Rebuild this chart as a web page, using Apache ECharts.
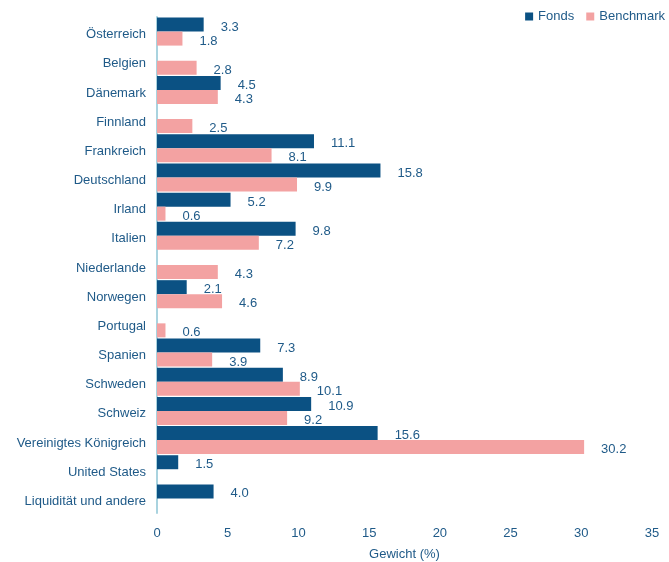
<!DOCTYPE html>
<html>
<head>
<meta charset="utf-8">
<script src="https://cdn.jsdelivr.net/npm/echarts@6/dist/echarts.min.js"></script>
<style>
  html, body { margin: 0; padding: 0; background: #fff; }
  #chart { width: 669px; height: 562px; }
</style>
</head>
<body>
<div id="chart"></div>
<script>
var categories = ['Österreich', 'Belgien', 'Dänemark', 'Finnland', 'Frankreich', 'Deutschland', 'Irland', 'Italien',
    'Niederlande', 'Norwegen', 'Portugal', 'Spanien', 'Schweden', 'Schweiz', 'Vereinigtes Königreich',
    'United States', 'Liquidität und andere'];
var fonds = [3.3, null, 4.5, null, 11.1, 15.8, 5.2, 9.8, null, 2.1, null, 7.3, 8.9, 10.9, 15.6, 1.5, 4.0];
var benchmark = [1.8, 2.8, 4.3, 2.5, 8.1, 9.9, 0.6, 7.2, 4.3, 4.6, 0.6, 3.9, 10.1, 9.2, 30.2, null, null];
var xTicks = [0, 5, 10, 15, 20, 25, 30, 35];

var textColor = '#1f5a88';
var fontSize = 13;
var myChart = echarts.init(document.getElementById('chart'));

function barLabel() {
    return {
        show: true,
        position: 'right',
        distance: 17,
        offset: [0, 2.5],
        color: textColor,
        fontSize: fontSize,
        formatter: function (p) {
            return p.value == null ? '' : p.value.toFixed(1);
        }
    };
}

var option = {
    animation: false,
    textStyle: { fontFamily: 'Liberation Sans, Arial, sans-serif' },
    legend: {
        right: 4,
        top: 10,
        padding: 0,
        itemWidth: 8,
        itemHeight: 8,
        itemGap: 12,
        icon: 'rect',
        textStyle: { color: textColor, fontSize: fontSize },
        data: ['Fonds', 'Benchmark']
    },
    grid: { left: 157, right: 17, top: 17, bottom: 49, containLabel: false, outerBoundsMode: 'none' },
    xAxis: {
        type: 'value',
        min: xTicks[0],
        max: xTicks[xTicks.length - 1],
        interval: 5,
        name: 'Gewicht (%)',
        nameLocation: 'middle',
        nameGap: 35,
        nameTextStyle: { color: textColor, fontSize: fontSize },
        axisLine: { show: false },
        axisTick: { show: false },
        splitLine: { show: false },
        axisLabel: { color: textColor, fontSize: fontSize, margin: 14 }
    },
    yAxis: {
        type: 'category',
        inverse: true,
        data: categories,
        axisLine: { show: true, lineStyle: { color: '#a9d3df', width: 2 } },
        axisTick: { show: false },
        axisLabel: {
            color: textColor,
            fontSize: fontSize,
            margin: 11,
            formatter: '{c|{value}}',
            rich: { c: { color: textColor, fontSize: fontSize, padding: [6, 0, 0, 0] } }
        }
    },
    series: [
        {
            name: 'Fonds',
            type: 'bar',
            data: fonds,
            barGap: '0%',
            barCategoryGap: '4%',
            itemStyle: { color: '#0b5183' },
            label: barLabel()
        },
        {
            name: 'Benchmark',
            type: 'bar',
            data: benchmark,
            itemStyle: { color: '#f3a2a2' },
            label: barLabel()
        }
    ]
};
myChart.setOption(option);
</script>
</body>
</html>
